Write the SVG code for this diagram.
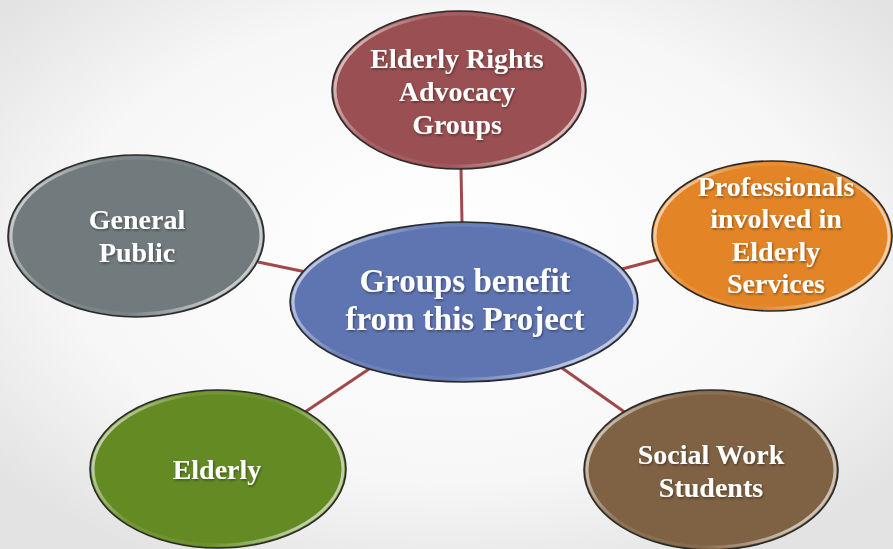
<svg xmlns="http://www.w3.org/2000/svg" width="893" height="549" viewBox="0 0 893 549">
<defs>
<radialGradient id="bg" cx="50%" cy="45%" r="65%">
<stop offset="0" stop-color="#ffffff"/>
<stop offset="0.65" stop-color="#f7f7f7"/>
<stop offset="1" stop-color="#e3e3e3"/>
</radialGradient>
<linearGradient id="bevel" x1="0" y1="0" x2="1" y2="0.3">
<stop offset="0" stop-color="#ffffff" stop-opacity="0.85"/>
<stop offset="0.35" stop-color="#ffffff" stop-opacity="0.1"/>
<stop offset="0.7" stop-color="#ffffff" stop-opacity="0.05"/>
<stop offset="1" stop-color="#ffffff" stop-opacity="0.6"/>
</linearGradient>
<filter id="ts" x="-10%" y="-10%" width="120%" height="130%">
<feDropShadow dx="1" dy="1.5" stdDeviation="1" flood-color="#000" flood-opacity="0.4"/>
</filter>
</defs>
<style>
.node ellipse.body{stroke:#2a2a2a;stroke-width:1.6}
.node ellipse.hl{fill:none;stroke:url(#bevel);stroke-width:3}
.node text{font-family:"Liberation Serif","Times New Roman",serif;font-weight:bold;fill:#ffffff;text-anchor:middle;filter:url(#ts)}
.conn line{stroke:#a0494b;stroke-width:3;stroke-linecap:butt}
</style>
<rect width="893" height="549" fill="url(#bg)"/>
<g id="connectors" class="conn">
<line x1="461" y1="168" x2="462" y2="223"/>
<line x1="258" y1="262" x2="306" y2="272"/>
<line x1="622" y1="269" x2="660" y2="259"/>
<line x1="305" y1="412" x2="369" y2="369"/>
<line x1="562" y1="368" x2="626" y2="413"/>
</g>
<g id="node-top" class="node">
<ellipse class="body" cx="459" cy="90" rx="127" ry="79" fill="#9a5052"/>
<ellipse class="hl" cx="459" cy="90" rx="124" ry="76"/>
<text font-size="28" x="457" y="68">Elderly Rights</text>
<text font-size="28" x="457" y="101">Advocacy</text>
<text font-size="28" x="457" y="134">Groups</text>
</g>
<g id="node-general" class="node">
<ellipse class="body" cx="136" cy="236" rx="128" ry="81" fill="#717b7e"/>
<ellipse class="hl" cx="136" cy="236" rx="125" ry="78"/>
<text font-size="28" x="137" y="229">General</text>
<text font-size="28" x="137" y="262">Public</text>
</g>
<g id="node-prof" class="node">
<ellipse class="body" cx="772" cy="236" rx="120" ry="75" fill="#e38526"/>
<ellipse class="hl" cx="772" cy="236" rx="117" ry="72"/>
<text font-size="28" x="776" y="196">Professionals</text>
<text font-size="28" x="776" y="228">involved in</text>
<text font-size="28" x="776" y="261">Elderly</text>
<text font-size="28" x="776" y="293">Services</text>
</g>
<g id="node-center" class="node">
<ellipse class="body" cx="464" cy="302" rx="174" ry="80" fill="#5f75b2"/>
<ellipse class="hl" cx="464" cy="302" rx="171" ry="77"/>
<text font-size="33" x="465" y="292">Groups benefit</text>
<text font-size="33" x="465" y="330">from this Project</text>
</g>
<g id="node-elderly" class="node">
<ellipse class="body" cx="218" cy="469" rx="128" ry="79" fill="#648a23"/>
<ellipse class="hl" cx="218" cy="469" rx="125" ry="76"/>
<text font-size="28" x="217" y="479">Elderly</text>
</g>
<g id="node-social" class="node">
<ellipse class="body" cx="711" cy="470" rx="127" ry="80" fill="#7f6243"/>
<ellipse class="hl" cx="711" cy="470" rx="124" ry="77"/>
<text font-size="28" x="711" y="464">Social Work</text>
<text font-size="28" x="711" y="497">Students</text>
</g>
</svg>
